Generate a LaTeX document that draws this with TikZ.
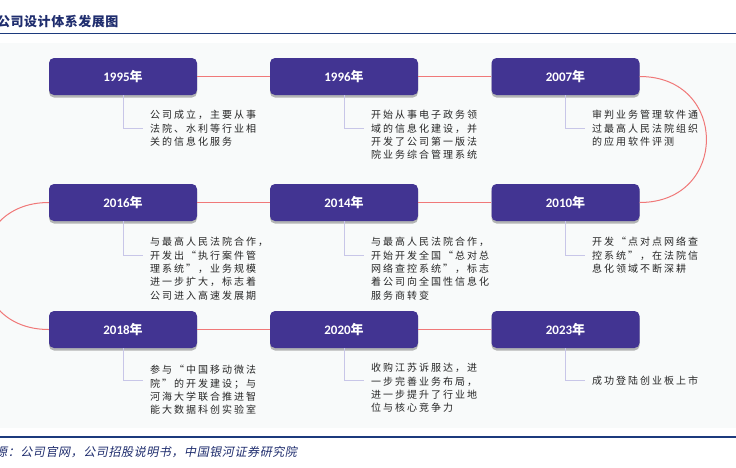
\documentclass[tikz,border=0pt]{standalone}
\usepackage{fontspec}
\usetikzlibrary{shadows}
\newfontfamily\cjk[LetterSpace=20]{Noto Sans CJK SC}
\newfontfamily\cjktitle[LetterSpace=4]{Noto Sans CJK SC}
\newfontfamily\cjkyear{Noto Sans CJK SC}
\newfontfamily\cjkit[FakeSlant=0.2,LetterSpace=5]{Noto Sans CJK SC}
\newfontfamily\numfont{Carlito}
\definecolor{boxc}{RGB}{66,52,146}
\definecolor{linkc}{RGB}{240,120,120}
\definecolor{brkc}{RGB}{200,198,232}
\definecolor{navy}{RGB}{31,45,110}
\definecolor{rulec}{RGB}{28,58,125}
\definecolor{panel}{RGB}{248,250,250}
\tikzset{
  yearbox/.style={draw=none, fill=boxc, rounded corners=5pt, minimum width=148pt, minimum height=37pt,
    inner sep=0pt, text=white, font=\fontsize{13}{15}\selectfont\bfseries,
    drop shadow={shadow xshift=0pt, shadow yshift=-2.5pt, opacity=0.28, fill=black}},
  link/.style={draw=linkc, line width=1pt},
  brk/.style={draw=brkc, line width=0.9pt},
  desc/.style={anchor=north west, inner sep=0pt, align=left, text=black!85,
    font=\fontsize{10}{13.4}\selectfont\cjk}
}
\begin{document}
\begin{tikzpicture}[x=1pt,y=-1pt]
\useasboundingbox (0,0) rectangle (736,467);
\clip (0,0) rectangle (736,467);
\fill[white] (0,0) rectangle (736,467);
% title
\node[anchor=west, inner sep=0pt, text=navy, font=\fontsize{13}{15}\selectfont\cjktitle\bfseries] (title) at (-3,22) {公司设计体系发展图};
\draw[rulec, line width=1.6pt] (0,33.5) -- (736,33.5);
% panel
\fill[panel] (0,43) rectangle (736,428);
% boxes
\node[yearbox] (y1995) at (123,76.5) {{\numfont 1995}\cjkyear 年};
\node[yearbox] (y1996) at (344,76.5) {{\numfont 1996}\cjkyear 年};
\node[yearbox] (y2007) at (565.5,76.5) {{\numfont 2007}\cjkyear 年};
\node[yearbox] (y2016) at (123,202.5) {{\numfont 2016}\cjkyear 年};
\node[yearbox] (y2014) at (344,202.5) {{\numfont 2014}\cjkyear 年};
\node[yearbox] (y2010) at (565.5,202.5) {{\numfont 2010}\cjkyear 年};
\node[yearbox] (y2018) at (123,329.5) {{\numfont 2018}\cjkyear 年};
\node[yearbox] (y2020) at (344,329.5) {{\numfont 2020}\cjkyear 年};
\node[yearbox] (y2023) at (565.5,329.5) {{\numfont 2023}\cjkyear 年};
% links
\draw[link] (y1995.east) -- (y1996.west);
\draw[link] (y1996.east) -- (y2007.west);
\draw[link] (y2007.east) .. controls +(89,0) and +(89,0) .. (y2010.east);
\draw[link] (y2010.west) -- (y2014.east);
\draw[link] (y2014.west) -- (y2016.east);
\draw[link] (y2016.west) .. controls +(-89,0) and +(-89,0) .. (y2018.west);
\draw[link] (y2018.east) -- (y2020.west);
\draw[link] (y2020.east) -- (y2023.west);
% bracket ends
\coordinate (b1995) at (143,128);
\coordinate (b1996) at (364,128);
\coordinate (b2007) at (585,128);
\coordinate (b2016) at (143,255);
\coordinate (b2014) at (364,255);
\coordinate (b2010) at (585,255);
\coordinate (b2018) at (143,380);
\coordinate (b2020) at (364,380);
\coordinate (b2023) at (585,380);
\foreach \y in {1995,1996,2007,2016,2014,2010,2018,2020,2023}
  \draw[brk] (y\y.south) |- (b\y);
% descriptions
\node[desc] (d1995) at (150,110) {公司成立，主要从事\\法院、水利等行业相\\关的信息化服务};
\node[desc] (d1996) at (371,110) {开始从事电子政务领\\域的信息化建设，并\\开发了公司第一版法\\院业务综合管理系统};
\node[desc] (d2007) at (592,110) {审判业务管理软件通\\过最高人民法院组织\\的应用软件评测};
\node[desc] (d2016) at (150,237) {与最高人民法院合作，\\开发出“执行案件管\\理系统”，业务规模\\进一步扩大，标志着\\公司进入高速发展期};
\node[desc] (d2014) at (371,237) {与最高人民法院合作，\\开始开发全国“总对总\\网络查控系统”，标志\\着公司向全国性信息化\\服务商转变};
\node[desc] (d2010) at (592,237) {开发“点对点网络查\\控系统”，在法院信\\息化领域不断深耕};
\node[desc] (d2018) at (150,365) {参与“中国移动微法\\院”的开发建设；与\\河海大学联合推进智\\能大数据科创实验室};
\node[desc] (d2020) at (371,363) {收购江苏诉服达，进\\一步完善业务布局，\\进一步提升了行业地\\位与核心竞争力};
\node[desc] (d2023) at (592,376) {成功登陆创业板上市};
% bottom rule and source
\draw[rulec, line width=1.6pt] (0,437) -- (736,437);
\node[anchor=west, inner sep=0pt, text=navy, font=\fontsize{12}{14}\selectfont\cjkit] (src) at (-5,452) {源：公司官网，公司招股说明书，中国银河证券研究院};
\end{tikzpicture}
\end{document}
